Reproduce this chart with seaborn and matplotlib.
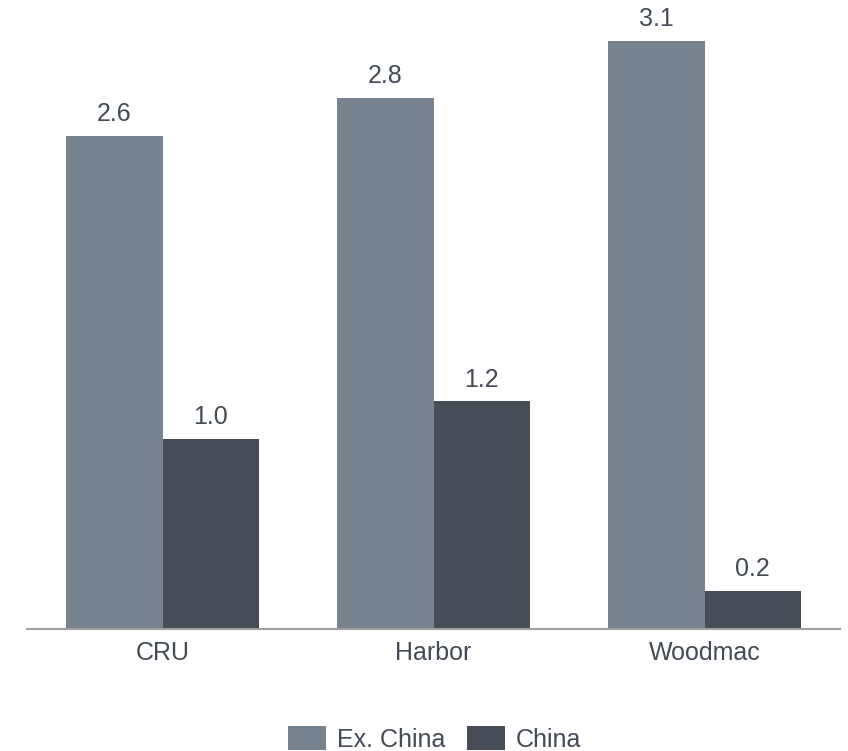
import matplotlib
matplotlib.use("Agg")
import matplotlib.pyplot as plt
import seaborn as sns
import pandas as pd
from matplotlib.patches import Patch

sources = ["CRU", "Harbor", "Woodmac"]
ex_china = [2.6, 2.8, 3.1]
china = [1.0, 1.2, 0.2]
series_names = ["Ex. China", "China"]
colors = ["#77848F", "#464D57"]

df = pd.DataFrame({
    "source": sources * 2,
    "series": [series_names[0]] * 3 + [series_names[1]] * 3,
    "value": ex_china + china,
})

sns.set_theme(style="white")
plt.rcParams["font.family"] = ["Liberation Sans", "DejaVu Sans"]
text_color = "#434B55"

W, H = 848, 751
fig = plt.figure(figsize=(W / 100, H / 100), dpi=100)
ax = fig.add_axes([27 / W, 1 - 629 / H, (840 - 27) / W, 629 / H])

sns.barplot(data=df, x="source", y="value", hue="series", palette=colors,
            width=0.71, linewidth=0, saturation=1, ax=ax, legend=False)

for cont in ax.containers:
    ax.bar_label(cont, fmt="%.1f", padding=7, fontsize=18, color=text_color)

ax.set_ylim(0, 629 / 189.8)
ax.set_xlim(-0.5, 2.5)
ax.set_xlabel("")
ax.set_ylabel("")
ax.set_yticks([])
for s in ["top", "left", "right"]:
    ax.spines[s].set_visible(False)
ax.spines["bottom"].set_color("#A0A0A0")
ax.spines["bottom"].set_linewidth(1.5)
ax.tick_params(axis="x", length=0, pad=9, labelsize=18, labelcolor=text_color)

handles = [Patch(facecolor=c, edgecolor="none") for c in colors]
fig.legend(handles, series_names, loc="center", bbox_to_anchor=(434.5 / W, 1 - 739 / H),
           ncol=2, frameon=False, fontsize=18, labelcolor=text_color,
           handlelength=1.52, handleheight=1.1, handletextpad=0.45, columnspacing=0.85,
           borderpad=0, borderaxespad=0)

fig.savefig("out.png", dpi=100)
